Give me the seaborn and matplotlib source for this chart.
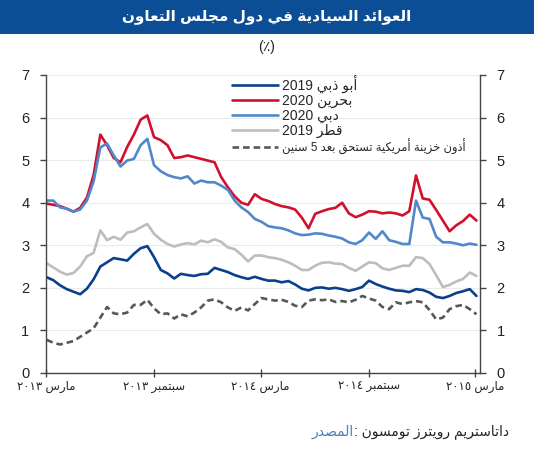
import pandas as pd
import matplotlib
matplotlib.use('Agg')
import matplotlib.pyplot as plt
from matplotlib.lines import Line2D
from matplotlib.patches import Rectangle
import seaborn as sns

# ---------------- data ----------------
dates = pd.date_range('2013-03-02', '2015-03-03', periods=65)

abu_dhabi_2019 = [2.25, 2.18, 2.06, 1.97, 1.91, 1.85, 1.98, 2.2, 2.5, 2.6, 2.7, 2.67, 2.64, 2.8, 2.93, 2.98,
                  2.72, 2.42, 2.34, 2.22, 2.33, 2.3, 2.28, 2.32, 2.33, 2.47, 2.42, 2.37, 2.3, 2.25, 2.21, 2.26,
                  2.21, 2.17, 2.17, 2.13, 2.16, 2.08, 1.98, 1.94, 2.0, 2.01, 1.98, 2.0, 1.97, 1.93, 1.97, 2.02, 2.17,
                  2.09, 2.03, 1.98, 1.94, 1.93, 1.9, 1.97, 1.95, 1.89, 1.79, 1.76, 1.81, 1.88, 1.92, 1.97, 1.81]
bahrain_2020 = [3.98, 3.95, 3.92, 3.86, 3.79, 3.88, 4.12, 4.65, 5.6, 5.35, 5.05, 4.95, 5.31, 5.6, 5.95, 6.05,
                5.54, 5.47, 5.35, 5.05, 5.07, 5.11, 5.07, 5.03, 4.99, 4.95, 4.6, 4.36, 4.15, 4.0, 3.95, 4.2,
                4.09, 4.04, 3.97, 3.92, 3.89, 3.84, 3.65, 3.4, 3.74, 3.8, 3.85, 3.88, 4.0, 3.75, 3.66, 3.72, 3.8,
                3.79, 3.75, 3.77, 3.75, 3.7, 3.8, 4.64, 4.1, 4.07, 3.83, 3.58, 3.33, 3.47, 3.57, 3.72, 3.58]
dubai_2020 = [4.05, 4.05, 3.89, 3.86, 3.79, 3.84, 4.05, 4.5, 5.3, 5.39, 5.11, 4.85, 4.99, 5.03, 5.35, 5.5,
              4.88, 4.74, 4.65, 4.6, 4.57, 4.62, 4.45, 4.52, 4.48, 4.48, 4.4, 4.3, 4.05, 3.89, 3.78, 3.62,
              3.55, 3.45, 3.42, 3.4, 3.35, 3.28, 3.24, 3.25, 3.28, 3.27, 3.23, 3.2, 3.16, 3.07, 3.03, 3.12, 3.3,
              3.15, 3.33, 3.12, 3.08, 3.03, 3.03, 4.05, 3.65, 3.62, 3.2, 3.07, 3.07, 3.04, 3.0, 3.04, 3.01]
qatar_2019 = [2.58, 2.48, 2.38, 2.31, 2.35, 2.5, 2.74, 2.82, 3.35, 3.12, 3.2, 3.13, 3.3, 3.33, 3.42, 3.5,
              3.27, 3.13, 3.03, 2.97, 3.02, 3.05, 3.02, 3.11, 3.07, 3.14, 3.08, 2.95, 2.91, 2.78, 2.62, 2.76,
              2.76, 2.72, 2.7, 2.66, 2.6, 2.52, 2.42, 2.42, 2.52, 2.59, 2.6, 2.57, 2.56, 2.47, 2.4, 2.5, 2.6,
              2.58, 2.46, 2.42, 2.47, 2.52, 2.52, 2.72, 2.7, 2.56, 2.3, 2.02, 2.07, 2.15, 2.21, 2.36, 2.28]
us_5y = [0.78, 0.71, 0.67, 0.71, 0.75, 0.85, 0.95, 1.05, 1.3, 1.55, 1.4, 1.38, 1.42, 1.6, 1.6, 1.72,
         1.52, 1.38, 1.4, 1.28, 1.38, 1.33, 1.42, 1.54, 1.7, 1.73, 1.66, 1.54, 1.46, 1.54, 1.47, 1.62,
         1.76, 1.73, 1.7, 1.72, 1.67, 1.58, 1.55, 1.7, 1.73, 1.71, 1.73, 1.67, 1.69, 1.66, 1.72, 1.81, 1.75,
         1.7, 1.55, 1.5, 1.66, 1.62, 1.66, 1.69, 1.66, 1.48, 1.26, 1.3, 1.5, 1.57, 1.6, 1.5, 1.38]

series_names = ['أبو ذبي 2019', 'بحرين 2020', 'دبي 2020', 'قطر 2019', 'أذون خزينة أمريكية تستحق بعد 5 سنين']
series_values = [abu_dhabi_2019, bahrain_2020, dubai_2020, qatar_2019, us_5y]
series_colors = ['#0A3F8C', '#D2102E', '#5088CC', '#BDBDBD', '#585858']

tick_dates = ['2013-03-01', '2013-09-01', '2014-03-01', '2014-09-01', '2015-03-01']
tick_labels = ['مارس ٢٠١٣', 'سبتمبر ٢٠١٣', 'مارس ٢٠١٤', 'سبتمبر ٢٠١٤', 'مارس ٢٠١٥']

title = 'العوائد السيادية في دول مجلس التعاون'
subtitle = '(٪)'
source_label = 'المصدر'
source_text = 'تومسون رويترز داتاستريم'

# ---------------- minimal Arabic shaping (matplotlib has no bidi) ----------------
_letters = [('\u0621', 1), ('\u0622', 2), ('\u0623', 2), ('\u0624', 2), ('\u0625', 2), ('\u0626', 4),
            ('\u0627', 2), ('\u0628', 4), ('\u0629', 2), ('\u062A', 4), ('\u062B', 4), ('\u062C', 4),
            ('\u062D', 4), ('\u062E', 4), ('\u062F', 2), ('\u0630', 2), ('\u0631', 2), ('\u0632', 2),
            ('\u0633', 4), ('\u0634', 4), ('\u0635', 4), ('\u0636', 4), ('\u0637', 4), ('\u0638', 4),
            ('\u0639', 4), ('\u063A', 4), ('\u0641', 4), ('\u0642', 4), ('\u0643', 4), ('\u0644', 4),
            ('\u0645', 4), ('\u0646', 4), ('\u0647', 4), ('\u0648', 2), ('\u0649', 2), ('\u064A', 4)]
FORMS = {}
_cp = 0xFE80
for _ch, _n in _letters:
    FORMS[_ch] = [chr(_cp + i) for i in range(_n)]
    _cp += _n
LAM_ALEF = {'\u0622': 0xFEF5, '\u0623': 0xFEF7, '\u0625': 0xFEF9, '\u0627': 0xFEFB}


def is_arabic(s):
    return any(c in FORMS for c in s)


def shape_word(word):
    items = []
    i = 0
    while i < len(word):
        c = word[i]
        if c == '\u0644' and i + 1 < len(word) and word[i + 1] in LAM_ALEF:
            items.append(('LA', word[i + 1]))
            i += 2
        else:
            items.append((c, None))
            i += 1

    def joins_next(it):
        return it[0] in FORMS and len(FORMS[it[0]]) == 4

    def joinable(it):
        return it[0] == 'LA' or (it[0] in FORMS and len(FORMS[it[0]]) >= 2)

    out = []
    for j, it in enumerate(items):
        prev_c = j > 0 and joins_next(items[j - 1]) and joinable(it)
        next_c = j < len(items) - 1 and joins_next(it) and joinable(items[j + 1])
        if it[0] == 'LA':
            out.append(chr(LAM_ALEF[it[1]] + (1 if prev_c else 0)))
        elif it[0] in FORMS:
            f = FORMS[it[0]]
            if len(f) == 4:
                out.append(f[{(False, False): 0, (True, False): 1, (False, True): 2, (True, True): 3}[(prev_c, next_c)]])
            elif len(f) == 2:
                out.append(f[1 if prev_c else 0])
            else:
                out.append(f[0])
        else:
            out.append(it[0])
    return ''.join(out)[::-1]


def rtl(text):
    # right-to-left line: reverse word order, keep digit runs left-to-right
    words = text.split(' ')
    return ' '.join(shape_word(w) if is_arabic(w) else w for w in reversed(words))


def ltr_words(text):
    return ' '.join(shape_word(w) if is_arabic(w) else w for w in text.split(' '))


# ---------------- plot ----------------
sns.set_style('white')
plt.rcParams['font.family'] = ['Liberation Sans', 'DejaVu Sans']

frames = []
for name, vals in zip(series_names, series_values):
    frames.append(pd.DataFrame({'date': dates, 'value': vals, 'series': name}))
df = pd.concat(frames, ignore_index=True)

palette = dict(zip(series_names, series_colors))
dashes = {n: '' for n in series_names}
dashes[series_names[4]] = (2.5, 1.5)
draw_order = [series_names[4], series_names[3], series_names[0], series_names[1], series_names[2]]

fig = plt.figure(figsize=(5.34, 4.5), dpi=100)
ax = fig.add_axes([46 / 534, 77 / 450, 434 / 534, 298 / 450])

sns.lineplot(data=df, x='date', y='value', hue='series', style='series', hue_order=draw_order,
             style_order=draw_order, palette=palette, dashes=dashes, linewidth=1.9, legend=False, ax=ax)

ax.set_ylim(0, 7)
ax.set_xlim(pd.Timestamp('2013-03-01'), pd.Timestamp('2015-03-09'))
ax.set_yticks(range(0, 8))
ax.set_xticks(pd.to_datetime(tick_dates))
ax.set_xticklabels([rtl(t) for t in tick_labels], fontsize=8.5, color='#222222')
ax.set_xlabel('')
ax.set_ylabel('')
ax.yaxis.grid(True, color='#EBEBEB', linewidth=0.8)
ax.set_axisbelow(True)

for s in ['left', 'right', 'bottom']:
    ax.spines[s].set_color('#444444')
    ax.spines[s].set_linewidth(1.0)
ax.spines['top'].set_visible(False)
ax.tick_params(axis='y', left=True, right=True, labelleft=True, labelright=True,
               length=4, width=1, color='#444444', labelsize=10.5, pad=8, labelcolor='#222222')
ax.tick_params(axis='x', bottom=True, direction='inout', length=6, width=1, color='#444444', pad=3)

handles = [Line2D([], [], color=c, lw=1.9) for c in series_colors]
handles[4] = Line2D([], [], color=series_colors[4], lw=1.9, linestyle=(0, (2.5, 1.5)))
leg = ax.legend(handles, [rtl(n) for n in series_names], loc='upper left',
                bbox_to_anchor=(0.428, 1.0), frameon=False, fontsize=10, handlelength=3.3,
                handletextpad=0.3, labelspacing=0.05, borderpad=0, borderaxespad=0)
leg.get_texts()[4].set_fontsize(8.3)

# title bar
fig.patches.append(Rectangle((0, 1 - 34 / 450), 1, 34 / 450, transform=fig.transFigure,
                             facecolor='#0B4E96', edgecolor='none', zorder=0))
fig.text(0.5, 1 - 17 / 450, rtl(title), color='white', fontsize=11, fontweight='bold',
         ha='center', va='center')
fig.text(0.5, 1 - 47 / 450, subtitle, fontsize=10, ha='center', va='center', color='#222222')

# source line
src = fig.text(312 / 534, 1 - 432 / 450, ltr_words(source_label), fontsize=10,
               color='#4A7EBB', ha='left', va='center')
ax.annotate(': ' + ltr_words(source_text), xy=(1, 0.5), xycoords=src, ha='left', va='center',
            fontsize=10, color='#222222', annotation_clip=False)

fig.savefig('out.png', dpi=100)
